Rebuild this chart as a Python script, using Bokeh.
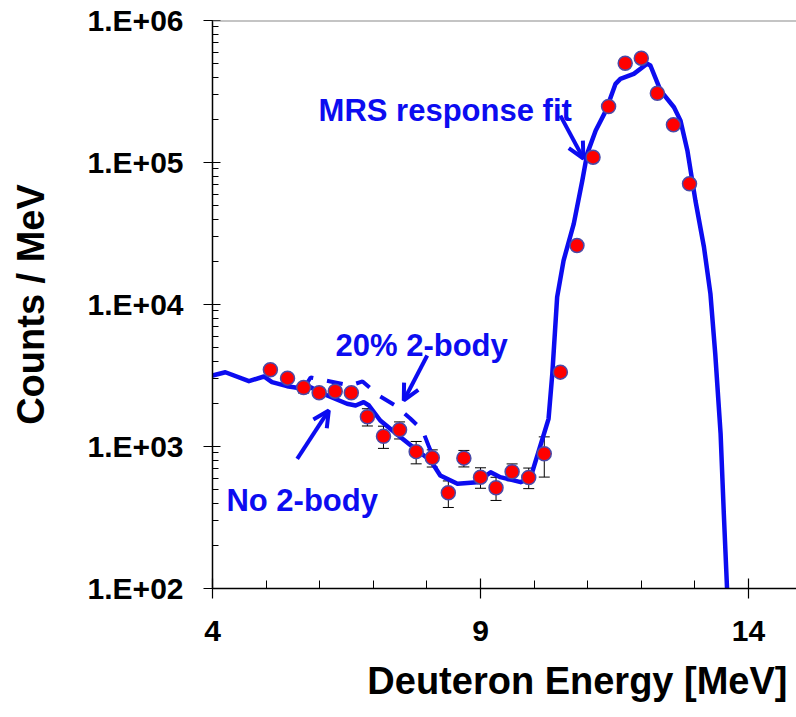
from bokeh.plotting import figure
from bokeh.models import (ColumnDataSource, FixedTicker, Whisker, TeeHead, Arrow,
                          OpenHead, Label, Span, Title)
from bokeh.embed import file_html
from bokeh.resources import INLINE

# ---------------- data ----------------
pts_x = [5.08, 5.40, 5.70, 5.99, 6.29, 6.59, 6.89, 7.19, 7.49, 7.80, 8.10, 8.40, 8.69,
         9.00, 9.29, 9.59, 9.90, 10.19, 10.49, 10.80, 11.10, 11.39, 11.70, 12.00,
         12.30, 12.60, 12.90]
pts_y = [3470, 3030, 2600, 2390, 2450, 2390, 1620, 1180, 1310, 920, 832, 472, 828,
         608, 512, 664, 605, 889, 3340, 26000, 109000, 248000, 500000, 543000,
         307600, 184300, 70800]
pts_err = [120, 150, 220, 150, 120, 130, 225, 210, 180, 165, 115, 100, 110,
           100, 95, 90, 100, 280, 150, 500, 2000, 3000, 5000, 5000, 4000, 3000, 2000]

fit_x = [4.00, 4.24, 4.68, 4.96, 5.11, 5.39, 5.70, 5.83, 6.14, 6.51, 6.67, 6.82, 6.92,
         7.13, 7.51, 7.82, 8.07, 8.25, 8.57, 8.94, 9.19, 9.37, 9.75, 9.93, 10.27,
         10.34, 10.43, 10.55, 10.74, 10.90, 10.99, 11.15, 11.34, 11.52, 11.61, 11.86,
         12.11, 12.17, 12.36, 12.61, 12.73, 12.86, 13.01, 13.17, 13.29, 13.38, 13.48,
         13.54, 13.60]
fit_y = [3162, 3334, 2884, 3112, 2838, 2660, 2549, 2618, 2286, 2000, 1945, 2051, 1945,
         1524, 1163, 937, 797, 625, 546, 561, 659, 608, 561, 596, 1567,
         3251, 11250, 20400, 37000, 74700, 115000, 168000, 232000, 358000, 388000, 421000,
         496000, 482000, 321000, 245000, 198000, 121600, 54000, 25300, 11900, 4500, 1228,
         336, 100]

dash_x = [5.70, 5.83, 6.20, 6.57, 6.80, 7.10, 7.41, 7.69, 7.92, 8.03, 8.16]
dash_y = [2549, 3062, 2871, 2691, 2871, 2286, 1945, 1576, 1297, 1016, 771]

x_ticks = [4, 9, 14]
x_minor = [5, 6, 7, 8, 10, 11, 12, 13]
y_ticks = [100, 1000, 10000, 100000, 1000000]
y_tick_labels = ["1.E+02", "1.E+03", "1.E+04", "1.E+05", "1.E+06"]

x_title = "Deuteron Energy [MeV]"
y_title = "Counts / MeV"
fit_label = "MRS response fit"
two_body_label = "20% 2-body"
no_two_body_label = "No 2-body"

# ---------------- styling ----------------
BLUE = "#0c0cf0"
FONT = "Liberation Sans"

p = figure(width=796, height=717, output_backend="svg", toolbar_location=None,
           x_range=(4, 14.896), y_range=(1e2, 1e6), y_axis_type="log",
           min_border_left=212, min_border_right=0, min_border_top=20,
           min_border_bottom=129, background_fill_color="white",
           border_fill_color="white")
p.outline_line_color = None
p.xgrid.visible = False
p.ygrid.visible = False

# axes
p.xaxis.ticker = FixedTicker(ticks=x_ticks, minor_ticks=x_minor)
p.yaxis.ticker = FixedTicker(
    ticks=y_ticks,
    minor_ticks=[k * 10 ** d for d in range(2, 6) for k in range(2, 10)])
p.yaxis.major_label_overrides = dict(zip(y_ticks, y_tick_labels))

for ax in (p.xaxis, p.yaxis):
    ax.axis_line_color = "black"
    ax.axis_line_width = 1.5
    ax.major_tick_line_color = "black"
    ax.major_tick_line_width = 1.2
    ax.minor_tick_line_color = "black"
    ax.minor_tick_line_width = 1
    ax.major_label_text_font = FONT
    ax.major_label_text_font_style = "bold"
    ax.major_label_text_font_size = "30px"
    ax.major_label_text_color = "black"

p.xaxis.axis_label = None
p.xaxis.major_tick_in = 10
p.xaxis.major_tick_out = 10
p.xaxis.minor_tick_in = 8
p.xaxis.minor_tick_out = 0
p.xaxis.major_label_standoff = 22

p.yaxis.major_tick_in = 8
p.yaxis.major_tick_out = 9
p.yaxis.minor_tick_in = 6
p.yaxis.minor_tick_out = 0
p.yaxis.major_label_standoff = 20
p.yaxis.axis_label = y_title
p.yaxis.axis_label_standoff = 33
p.yaxis.axis_label_text_font = FONT
p.yaxis.axis_label_text_font_style = "bold"
p.yaxis.axis_label_text_font_size = "38px"
p.yaxis.axis_label_text_color = "black"

# x-axis title as a right-aligned side-panel title
p.add_layout(Title(text=x_title, align="right", offset=9, standoff=29,
                   text_font=FONT, text_font_style="bold", text_font_size="38px",
                   text_color="black"), "below")

# top border
p.add_layout(Span(location=1e6, dimension="width", line_color="#8a8a8a", line_width=2))

# data
src = ColumnDataSource(dict(
    x=pts_x, y=pts_y,
    upper=[v + e for v, e in zip(pts_y, pts_err)],
    lower=[v - e for v, e in zip(pts_y, pts_err)],
))

p.line(fit_x, fit_y, line_color=BLUE, line_width=4.5, line_join="round")
p.line(dash_x, dash_y, line_color=BLUE, line_width=4, line_dash="16 14")

wh = Whisker(source=src, base="x", upper="upper", lower="lower", dimension="height",
             line_color="black", line_width=1,
             upper_head=TeeHead(size=11, line_color="black", line_width=1),
             lower_head=TeeHead(size=11, line_color="black", line_width=1))
p.add_layout(wh)

p.scatter("x", "y", source=src, size=14, fill_color="#ff0000",
          line_color="#4a4aa8", line_width=1.5)

# annotations: arrows
arrow_head = dict(size=16, line_color=BLUE, line_width=4)
p.add_layout(Arrow(end=OpenHead(**arrow_head), x_start=10.49, y_start=214000,
                   x_end=10.92, y_end=106700, line_color=BLUE, line_width=4))
p.add_layout(Arrow(end=OpenHead(**arrow_head), x_start=8.006, y_start=4375,
                   x_end=7.569, y_end=2109, line_color=BLUE, line_width=4))
p.add_layout(Arrow(end=OpenHead(**arrow_head), x_start=5.58, y_start=818,
                   x_end=6.17, y_end=1795, line_color=BLUE, line_width=4))

# annotations: texts
for txt, x, y in ((fit_label, 5.98, 232000), (two_body_label, 6.295, 5140),
                  (no_two_body_label, 4.26, 417)):
    p.add_layout(Label(x=x, y=y, text=txt, text_font=FONT, text_font_style="bold",
                       text_font_size="31px", text_color=BLUE,
                       text_align="left", text_baseline="alphabetic"))

open("out.html", "w").write(file_html(p, INLINE))
